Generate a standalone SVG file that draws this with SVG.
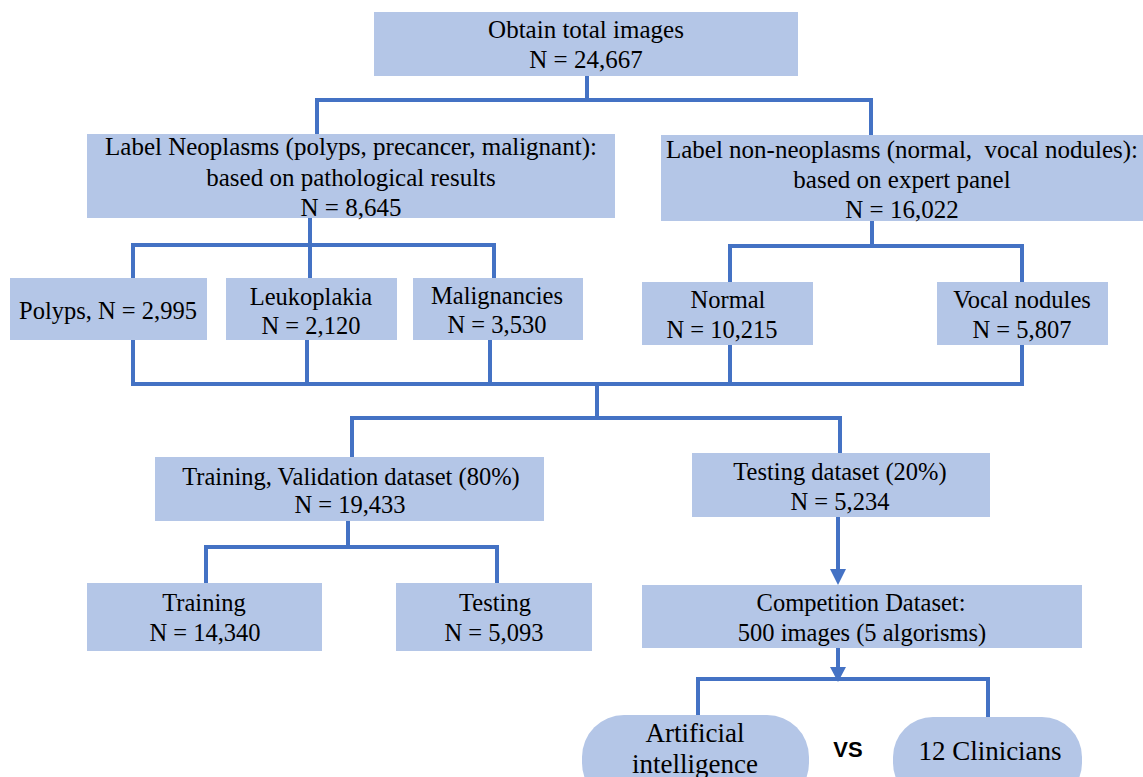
<svg xmlns="http://www.w3.org/2000/svg" width="1143" height="777" viewBox="0 0 1143 777">
<defs>
<style>
.box{fill:#b4c6e7;}
.t{font-family:'Liberation Serif','DejaVu Serif',serif;font-size:24.5px;fill:#000;text-anchor:middle;}
.t25{font-size:25px;}
.tp{font-size:27px;}
.vs{font-family:'Liberation Sans','DejaVu Sans',sans-serif;font-size:22px;font-weight:bold;fill:#000;text-anchor:middle;}
.c{stroke:#4472c4;stroke-width:4;fill:none;}
.ah{fill:#4472c4;}
</style>
</defs>
<rect width="1143" height="777" fill="#fff"/>
<g id="connectors">
<path class="c" d="M587,76 V100 M317,100 H871 M317,98 V134 M871,98 V137"/>
<path class="c" d="M310,218 V245 M133,245 H494 M133,243 V278 M310,243 V278 M494,243 V278"/>
<path class="c" d="M872,221 V246 M730,246 H1022 M730,244 V282 M1022,244 V282"/>
<path class="c" d="M133,340 V384 M307,340 V384 M490,340 V384 M730,345 V384 M1022,345 V386 M131,384 H1024"/>
<path class="c" d="M597,384 V418 M352,418 H840 M352,416 V457 M840,416 V453"/>
<path class="c" d="M348,521 V547 M206,547 H497 M206,545 V583 M497,545 V583"/>
<path class="c" d="M838,517 V570"/>
<path class="ah" d="M830,569 L846,569 L838,585 z"/>
<path class="c" d="M838,648 V668"/>
<path class="ah" d="M830,667 L846,667 L838,682 z"/>
<path class="c" d="M698,716 V679 H988 V718"/>
</g>
<g id="n-total"><rect class="box" x="374" y="12" width="424" height="64"/>
<text class="t t25" x="586" y="38">Obtain total images</text><text class="t t25" x="586" y="68">N = 24,667</text></g>
<g id="n-neo"><rect class="box" x="87" y="134" width="528" height="84"/>
<text class="t t25" x="351" y="155">Label Neoplasms (polyps, precancer, malignant):</text>
<text class="t t25" x="351" y="186">based on pathological results</text>
<text class="t t25" x="351" y="216">N = 8,645</text></g>
<g id="n-nonneo"><rect class="box" x="661" y="135" width="482" height="86"/>
<text class="t t25" x="902" y="158" xml:space="preserve">Label non-neoplasms (normal,  vocal nodules):</text>
<text class="t t25" x="902" y="188">based on expert panel</text>
<text class="t t25" x="902" y="218">N = 16,022</text></g>
<g id="n-polyps"><rect class="box" x="10" y="278" width="197" height="62"/>
<text class="t" x="108" y="319">Polyps, N = 2,995</text></g>
<g id="n-leuko"><rect class="box" x="226" y="278" width="171" height="62"/>
<text class="t" x="311" y="305">Leukoplakia</text><text class="t" x="311" y="334">N = 2,120</text></g>
<g id="n-malig"><rect class="box" x="413" y="278" width="170" height="62"/>
<text class="t" x="497" y="304">Malignancies</text><text class="t" x="497" y="333">N = 3,530</text></g>
<g id="n-normal"><rect class="box" x="642" y="282" width="171" height="63"/>
<text class="t" x="728" y="308">Normal</text><text class="t" x="722" y="338">N = 10,215</text></g>
<g id="n-vocal"><rect class="box" x="937" y="282" width="171" height="63"/>
<text class="t" x="1022" y="308">Vocal nodules</text><text class="t" x="1022" y="338">N = 5,807</text></g>
<g id="n-trainval"><rect class="box" x="155" y="457" width="389" height="64"/>
<text class="t" x="351" y="485">Training, Validation dataset (80%)</text><text class="t" x="350" y="513">N = 19,433</text></g>
<g id="n-testds"><rect class="box" x="692" y="453" width="298" height="64"/>
<text class="t" x="840" y="480">Testing dataset (20%)</text><text class="t" x="840" y="510">N = 5,234</text></g>
<g id="n-training"><rect class="box" x="87" y="583" width="235" height="68"/>
<text class="t" x="204" y="611">Training</text><text class="t" x="205" y="641">N = 14,340</text></g>
<g id="n-testing"><rect class="box" x="396" y="583" width="196" height="68"/>
<text class="t" x="495" y="611">Testing</text><text class="t" x="494" y="641">N = 5,093</text></g>
<g id="n-comp"><rect class="box" x="642" y="585" width="440" height="63"/>
<text class="t" x="861" y="611">Competition Dataset:</text><text class="t" x="862" y="641">500 images (5 algorisms)</text></g>
<g id="n-ai"><rect class="box" x="582" y="715" width="227" height="90" rx="42"/>
<text class="t tp" x="695" y="742">Artificial</text><text class="t tp" x="695" y="773">intelligence</text></g>
<g id="n-vs"><text class="vs" x="848" y="757">VS</text></g>
<g id="n-clin"><rect class="box" x="893" y="717" width="189" height="86" rx="40"/>
<text class="t tp" x="990" y="760">12 Clinicians</text></g>
</svg>
